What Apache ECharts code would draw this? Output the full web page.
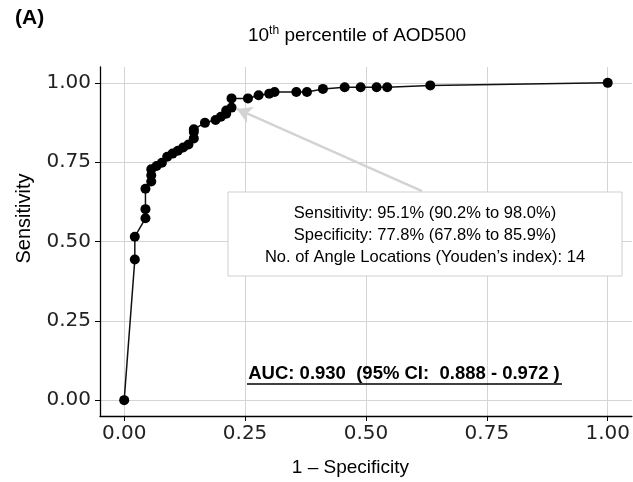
<!DOCTYPE html>
<html><head><meta charset="utf-8">
<script src="https://cdn.jsdelivr.net/npm/echarts@6/dist/echarts.min.js"></script>
<style>html,body{margin:0;padding:0;background:#fff}#c{width:633px;height:482px}</style>
</head><body><div id="c"></div>
<script>
const fpr = [0, 0.022, 0.022, 0.044, 0.044, 0.044, 0.056, 0.056, 0.056, 0.067, 0.078, 0.089, 0.100, 0.111, 0.122, 0.133, 0.144, 0.144, 0.144, 0.167, 0.189, 0.200, 0.211, 0.211, 0.222, 0.222, 0.256, 0.278, 0.300, 0.311, 0.356, 0.378, 0.411, 0.456, 0.489, 0.522, 0.544, 0.633, 1.0];
const tpr = [0, 0.443, 0.515, 0.573, 0.602, 0.666, 0.689, 0.709, 0.728, 0.738, 0.748, 0.767, 0.777, 0.786, 0.796, 0.806, 0.825, 0.845, 0.854, 0.874, 0.883, 0.893, 0.903, 0.913, 0.922, 0.951, 0.951, 0.961, 0.966, 0.971, 0.971, 0.971, 0.981, 0.986, 0.986, 0.986, 0.986, 0.992, 1.0];
const tickValues = [0, 0.25, 0.5, 0.75, 1];
const tickLabels = ['0.00', '0.25', '0.50', '0.75', '1.00'];
const panelLabel = '(A)';
const xName = '1 \u2013 Specificity';
const yName = 'Sensitivity';
const annotationLines = ['Sensitivity: 95.1% (90.2% to 98.0%)', 'Specificity: 77.8% (67.8% to 85.9%)', 'No. of Angle Locations (Youden\u2019s index): 14'];
const aucText = 'AUC: 0.930  (95% CI:  0.888 - 0.972 )';
const arrowFrom = [0.616, 0.659];
const arrowTo = [0.233, 0.918];

const TF = 'Liberation Sans, Arial, sans-serif';
const chart = echarts.init(document.getElementById('c'));
const fmt = v => { const i = tickValues.findIndex(t => Math.abs(t - v) < 1e-9); return i >= 0 ? tickLabels[i] : ''; };
const axisCommon = {
  type: 'value', min: -0.05, max: 1.05,
  axisLine: { show: true, onZero: false, lineStyle: { color: '#000', width: 1.3 } },
  axisTick: { show: true, inside: false, length: 5, customValues: tickValues, lineStyle: { color: '#000', width: 1 } },
  splitLine: { show: true, lineStyle: { color: '#d4d4d4', width: 1 } },
  nameTextStyle: { fontFamily: TF, fontSize: 19.5, color: '#000' }
};
chart.setOption({
  animation: false,
  backgroundColor: '#fff',
  title: {
    text: '10{sup|th} percentile of AOD500', left: 352, top: 20, textAlign: 'center',
    textStyle: { fontFamily: TF, fontSize: 19, fontWeight: 'normal', color: '#000',
      rich: { sup: { fontFamily: TF, fontSize: 12, padding: [0, 0, 10, 0], color: '#000' } } }
  },
  grid: { left: 100, top: 67, width: 533, height: 352, containLabel: false },
  xAxis: Object.assign({}, axisCommon, {
    name: xName, nameLocation: 'middle', nameGap: 42,
    nameTextStyle: { fontFamily: TF, fontSize: 19, color: '#000', padding: [0, 31, 0, 0] },
    axisLabel: { customValues: tickValues, formatter: fmt, fontFamily: 'DejaVu Sans', fontSize: 20, color: '#222', margin: 8 }
  }),
  yAxis: Object.assign({}, axisCommon, {
    name: yName, nameLocation: 'middle', nameGap: 66, nameRotate: 90,
    nameTextStyle: { fontFamily: TF, fontSize: 20, color: '#000', padding: [0, 0, 0, 46] },
    axisLabel: { customValues: tickValues, formatter: fmt, fontFamily: 'DejaVu Sans', fontSize: 20, color: '#222', margin: 9 }
  }),
  series: [{
    type: 'line', data: fpr.map((x, i) => [x, tpr[i]]),
    symbol: 'circle', symbolSize: 10, showSymbol: true,
    itemStyle: { color: '#000' }, lineStyle: { color: '#111', width: 1.5 },
    z: 5,
    markLine: {
      silent: true, symbol: ['none', 'arrow'], symbolSize: [13, 15],
      lineStyle: { color: '#d3d3d3', width: 2.5, type: 'solid' },
      label: { show: false },
      data: [[{ coord: arrowFrom }, { coord: arrowTo }]]
    }
  }],
  graphic: [
    { type: 'text', left: 15, top: 8, style: { text: panelLabel, font: 'bold 21px ' + TF, fill: '#000' } },
    { type: 'rect', shape: { x: 228, y: 192, width: 394, height: 84 }, style: { fill: '#fff', stroke: '#cfcfcf', lineWidth: 1 }, z: 100 },
    { type: 'text', x: 425, y: 213, style: { text: annotationLines[0], font: '16.5px ' + TF, fill: '#000', align: 'center', verticalAlign: 'middle' }, z: 101 },
    { type: 'text', x: 425, y: 235, style: { text: annotationLines[1], font: '16.5px ' + TF, fill: '#000', align: 'center', verticalAlign: 'middle' }, z: 101 },
    { type: 'text', x: 425, y: 257, style: { text: annotationLines[2], font: '16.5px ' + TF, fill: '#000', align: 'center', verticalAlign: 'middle' }, z: 101 },
    { type: 'text', x: 404, y: 374, style: { text: aucText, font: 'bold 18.5px ' + TF, fill: '#000', align: 'center', verticalAlign: 'middle' }, z: 101 },
    { type: 'line', shape: { x1: 247, y1: 384, x2: 562, y2: 384 }, style: { stroke: '#000', lineWidth: 1.3 }, z: 101 }
  ]
});
</script></body></html>
